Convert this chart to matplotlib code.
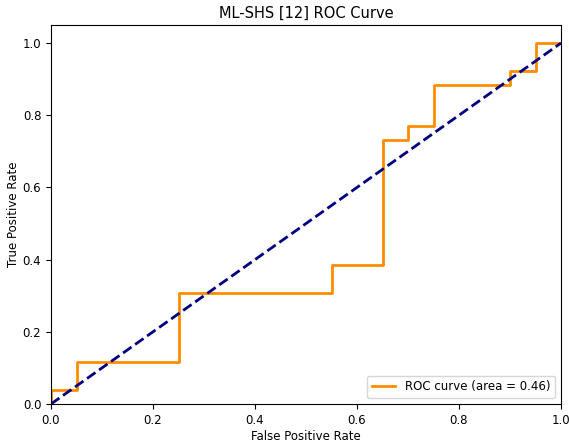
import matplotlib
matplotlib.use("Agg")
import matplotlib.pyplot as plt

# false / true positive rates of the ROC steps
fpr = [0.0, 0.0, 0.05, 0.05, 0.25, 0.25, 0.55, 0.55, 0.65, 0.65, 0.70, 0.70, 0.75, 0.75, 0.90, 0.90, 0.95, 0.95, 1.0]
tpr = [0.0, 1/26, 1/26, 3/26, 3/26, 8/26, 8/26, 10/26, 10/26, 19/26, 19/26, 20/26, 20/26, 23/26, 23/26, 24/26, 24/26, 1.0, 1.0]
roc_auc = 0.46

fig = plt.figure(figsize=(5.69, 4.43), dpi=100)
ax = fig.add_axes([51/569, 1 - 404/443, 510/569, 379/443])
ax.plot(fpr, tpr, color='darkorange', lw=2, label='ROC curve (area = %0.2f)' % roc_auc)
ax.plot([0, 1], [0, 1], color='navy', lw=2, linestyle='--')
ax.set_xlim([0.0, 1.0])
ax.set_ylim([0.0, 1.05])
ax.set_xlabel('False Positive Rate', fontsize=8.5, labelpad=2)
ax.set_ylabel('True Positive Rate', fontsize=8.5, labelpad=2)
ax.set_title('ML-SHS [12] ROC Curve', fontsize=10.5, pad=5)
ax.tick_params(labelsize=8.5)
ax.legend(loc="lower right", fontsize=8.5)
fig.savefig('out.png', dpi=100)
